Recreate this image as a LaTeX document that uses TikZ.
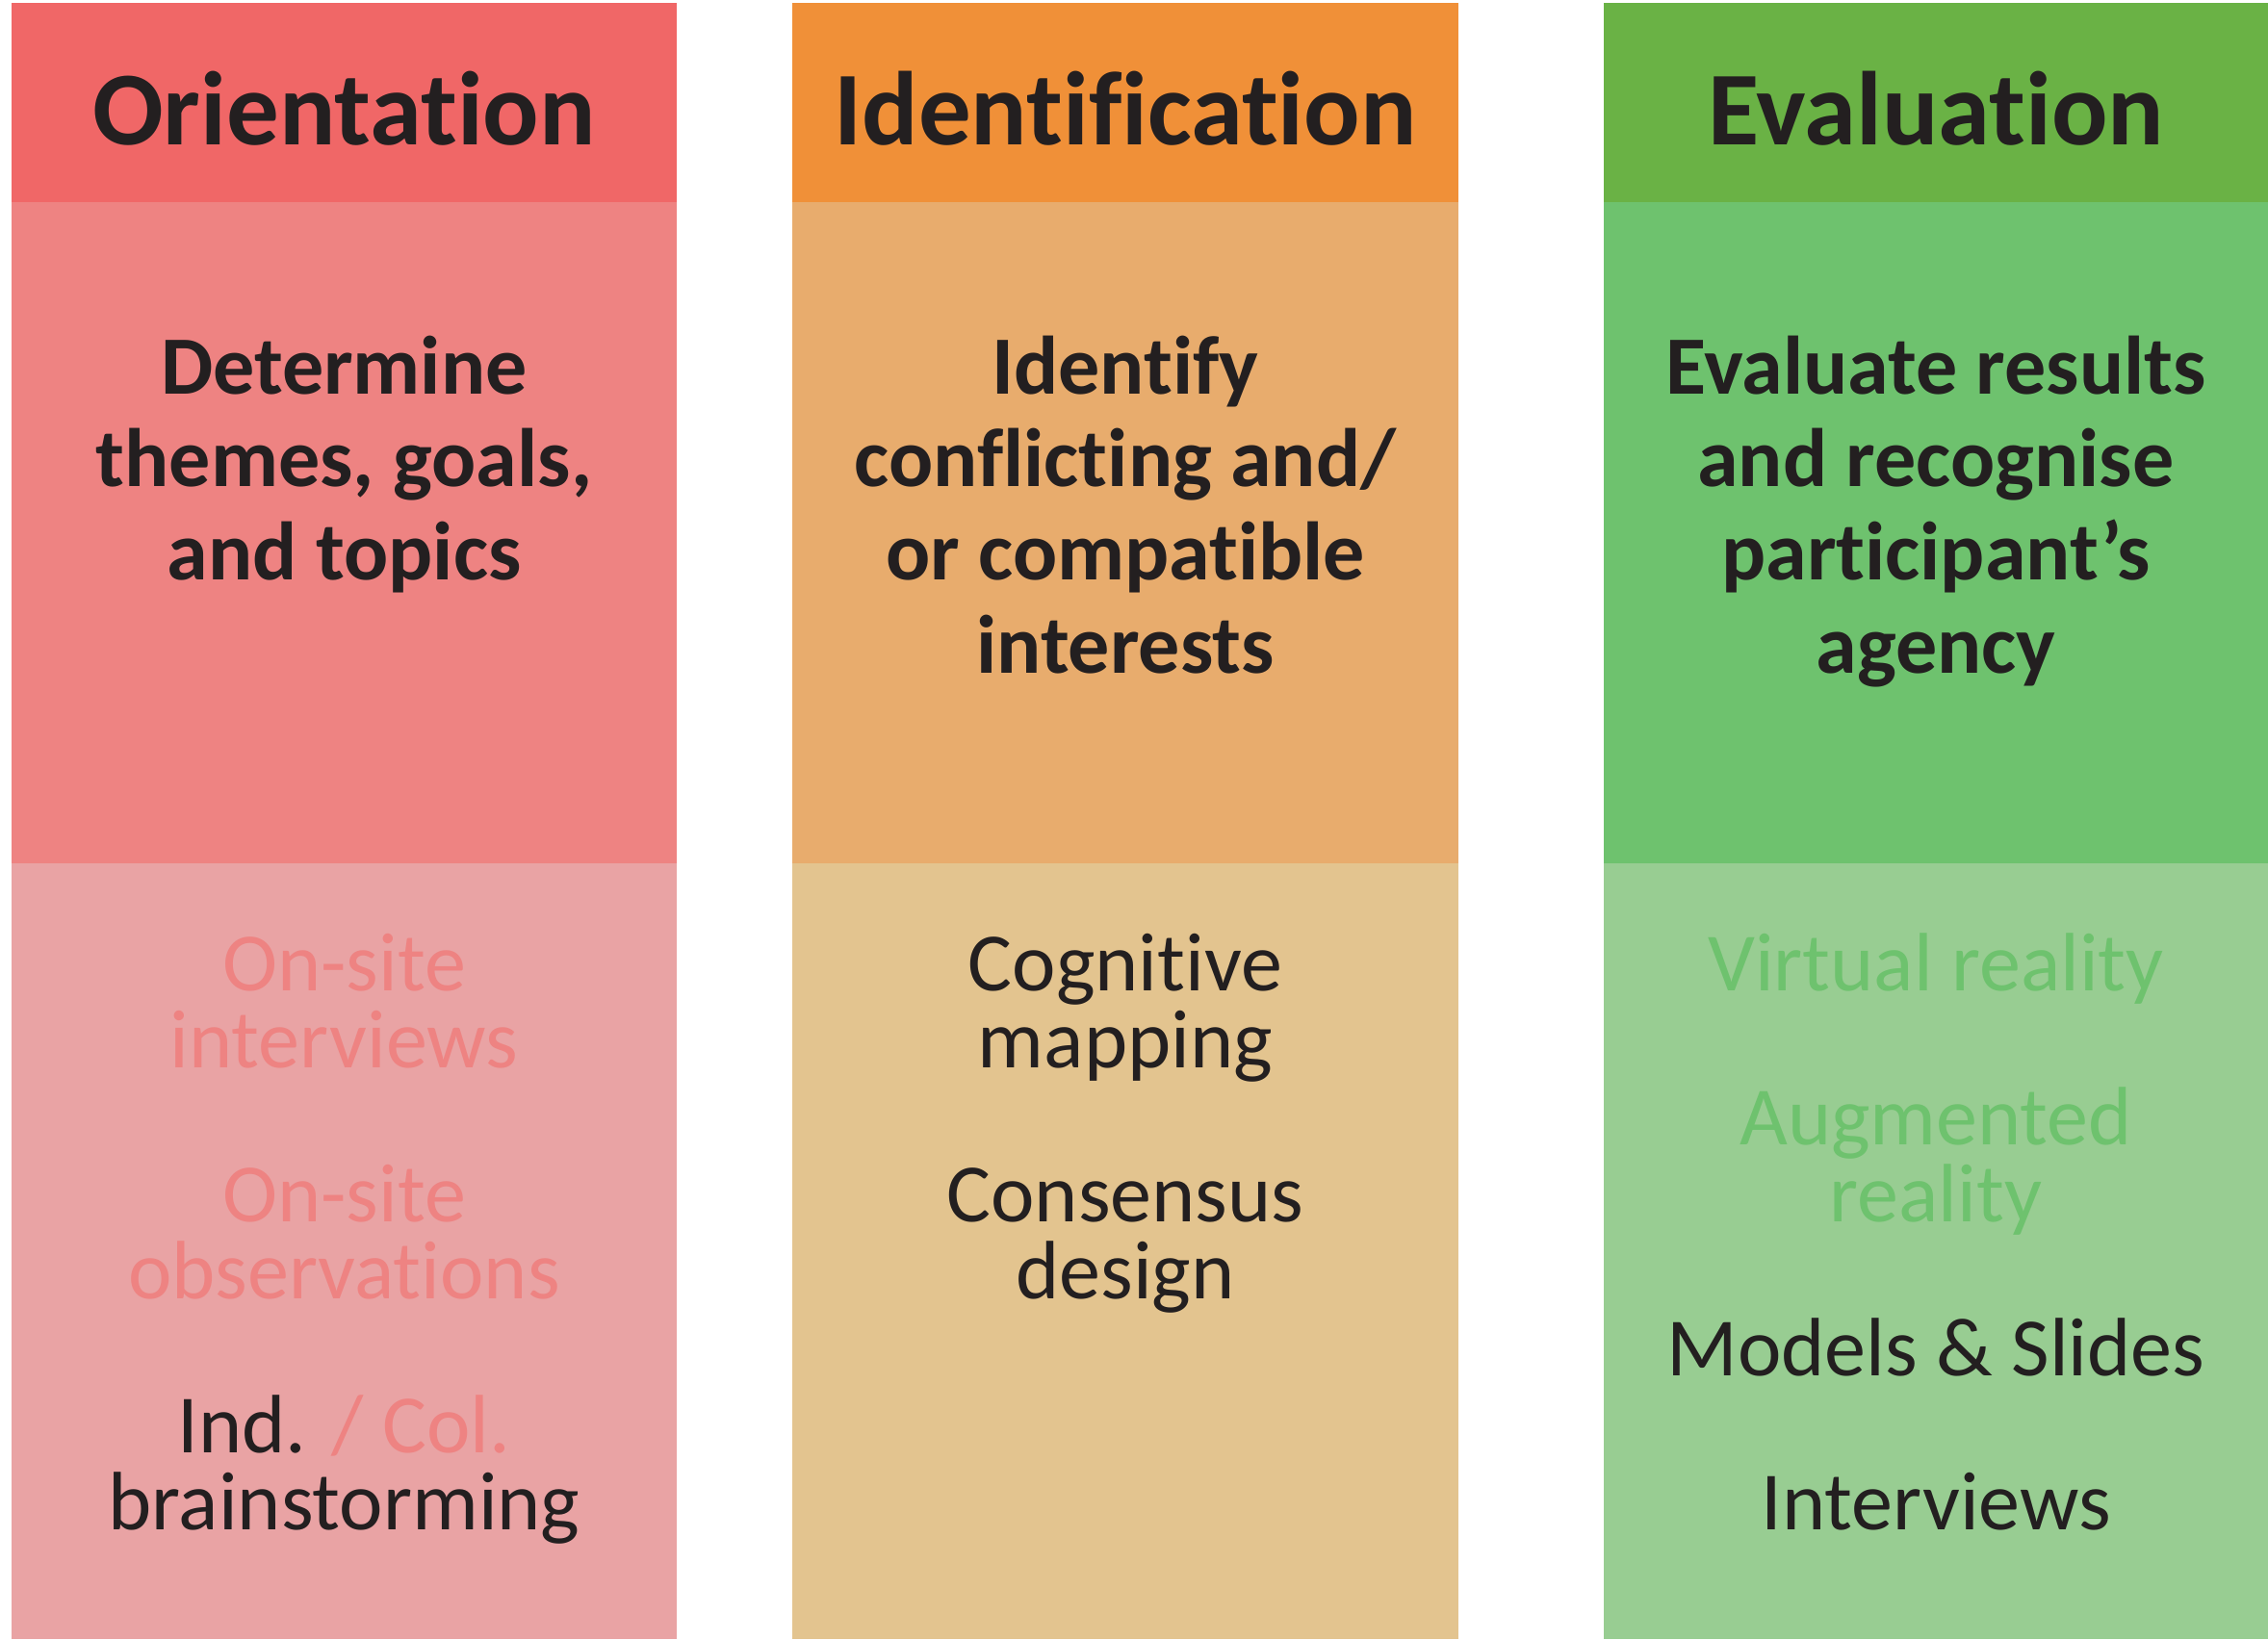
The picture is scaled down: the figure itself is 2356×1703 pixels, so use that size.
\documentclass[tikz,border=0pt]{standalone}
\usepackage{fontspec}
\setmainfont{Carlito}[Ligatures=NoCommon]
\usepackage{xcolor}
\definecolor{ink}{HTML}{231F20}
\definecolor{redhead}{HTML}{F06767}
\definecolor{redmid}{HTML}{EE8382}
\definecolor{redlow}{HTML}{E9A3A4}
\definecolor{orahead}{HTML}{F09038}
\definecolor{oramid}{HTML}{E8AC6D}
\definecolor{oralow}{HTML}{E3C48F}
\definecolor{grnhead}{HTML}{6AB245}
\definecolor{grnmid}{HTML}{6EC26E}
\definecolor{grnlow}{HTML}{98CD92}
\tikzset{head/.style={font=\bfseries\fontsize{31}{37}\selectfont,text=ink,anchor=base},
 task/.style={font=\bfseries\fontsize{24.5}{27.54}\selectfont,align=center,text=ink,anchor=base},
 tool/.style={font=\fontsize{24.5}{22.79}\selectfont,align=center,text=ink,anchor=base},
 }

\begin{document}
\begin{tikzpicture}[x=0.1mm,y=-0.1mm]
        \useasboundingbox (0,0) rectangle (2356,1703);
        % orientation
        \fill[redhead] (12,3) rectangle (703,210);
        \fill[redmid] (12,210) rectangle (703,897);
        \fill[redlow] (12,897) rectangle (703,1703);
        % identification
        \fill[orahead] (823,3) rectangle (1515,210);
        \fill[oramid] (823,210) rectangle (1515,897);
        \fill[oralow] (823,897) rectangle (1515,1703);
        % evaluation
        \fill[grnhead] (1666,3) rectangle (2356,210);
        \fill[grnmid] (1666,210) rectangle (2356,897);
        \fill[grnlow] (1666,897) rectangle (2356,1703);
        \node[head] (orient) at (357.5,150) {Orientation};
        \node[head] (ident) at (1169,150) {Identification};
        \node[head] (eval) at (2011,150) {Evaluation};
        % base = last line
        \node[task] (orienttask) at (357.5,602.6) {Determine\\themes, goals,\\and topics};
        \node[task] (identtask) at (1169,699.4) {Identify\\conflicting and/\\or compatible\\interests};
        \node[task] (evaltask) at (2011,699.4) {Evaluate results\\and recognise\\participant’s\\agency};
        \node[tool, text=redmid] (orienttools) at (357.5,1589.7) {On-site\\interviews\\[22.79pt]On-site\\observations\\[22.79pt]\textcolor{ink}{Ind.} / Col.\\\textcolor{ink}{brainstorming}};
        \node[tool] (identtools) at (1169,1349.4) {Cognitive\\mapping\\[22.79pt]Consensus\\design};
        \node[tool, text=grnmid] (evaltools) at (2011,1589.7) {Virtual reality\\[22.79pt]Augmented\\reality\\[22.79pt]\textcolor{ink}{Models \& Slides}\\[22.79pt]\textcolor{ink}{Interviews}};
    \end{tikzpicture}
\end{document}
